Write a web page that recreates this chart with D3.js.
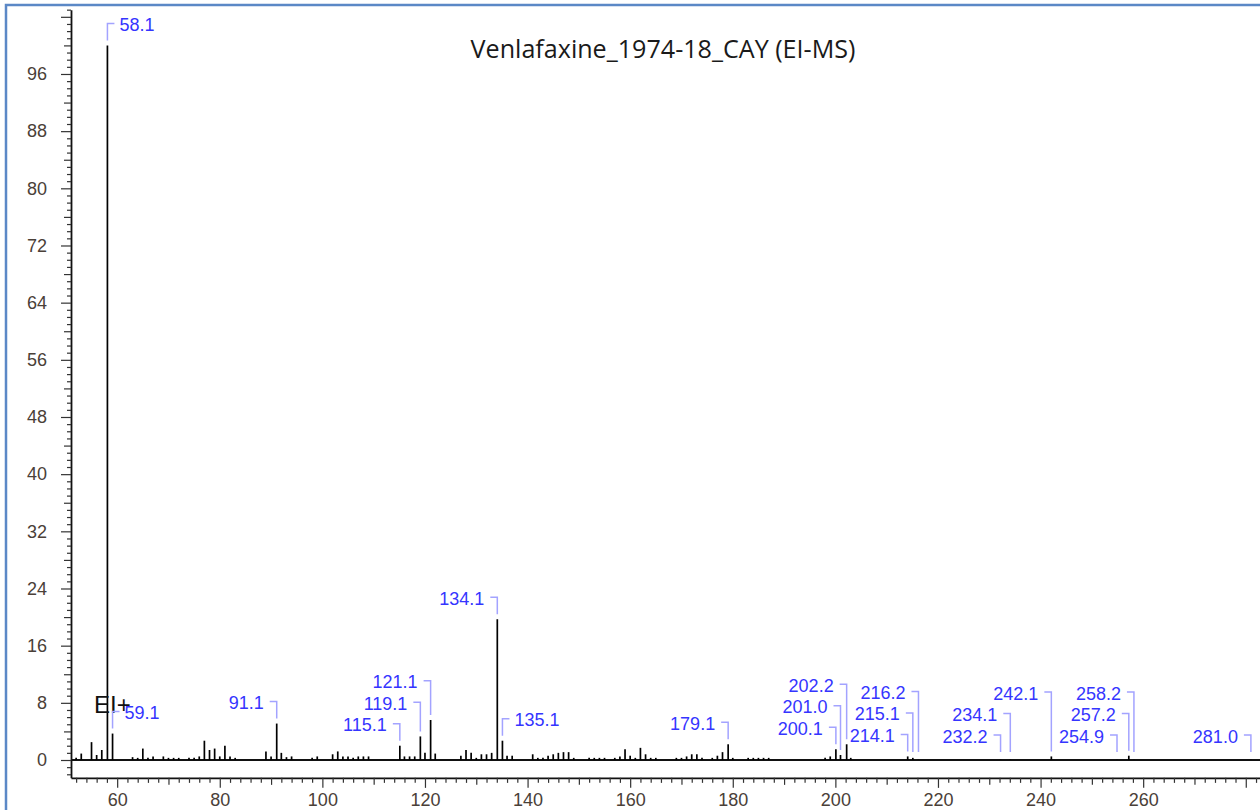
<!DOCTYPE html>
<html><head><meta charset="utf-8">
<script src="https://cdn.jsdelivr.net/npm/d3@7/dist/d3.min.js"></script>
<style>html,body{margin:0;padding:0;background:#fff;overflow:hidden}</style>
</head><body><svg id="c" width="1260" height="810"></svg>
<script>
const title = "Venlafaxine_1974-18_CAY (EI-MS)";
const ionMode = "EI+";
const mzValues = [52,53,55,56,57,58.1,59.1,63,64,65,66,67,69,70,71,72,74,75,76,77,78,79,80,81,82,83,89,90,91.1,92,93,94,98,99,102,103,104,105,106,107,108,109,115.1,116,117,118,119.1,120,121.1,122,127,128,129,130,131,132,133,134.1,135.1,136,137,141,142,143,144,145,146,147,148,149,152,153,154,155,157,158,159,160,161,162,163,164,165,169,170,171,172,173,174,176,177,178,179.1,180,183,184,185,186,187,198,199,200.1,201.0,202.2,203,214.1,215.1,216.2,232.2,234.1,242.1,254.9,257.2,258.2,281.0];
const intensities = [0.3,0.9,2.5,0.7,1.4,100,3.7,0.4,0.3,1.6,0.3,0.5,0.5,0.3,0.3,0.3,0.3,0.3,0.5,2.7,1.4,1.6,0.5,2.0,0.5,0.3,1.2,0.5,5.1,1.0,0.4,0.5,0.3,0.5,0.8,1.2,0.5,0.5,0.3,0.5,0.5,0.5,2.0,0.5,0.5,0.5,3.3,1.0,5.6,0.9,0.6,1.4,1.0,0.3,0.8,0.8,1.0,19.7,2.7,0.6,0.6,0.8,0.3,0.3,0.6,0.8,1.0,1.1,1.1,0.3,0.3,0.3,0.3,0.3,0.3,0.5,1.5,0.6,0.3,1.7,0.8,0.3,0.3,0.3,0.3,0.5,0.8,0.8,0.3,0.3,0.6,1.1,2.2,0.3,0.3,0.3,0.3,0.3,0.3,0.3,0.5,1.5,0.7,2.2,0.3,0.5,0.3,0.05,0.05,0.05,0.5,0.05,0.6,0.05,0.05];
const labeledMz = [58.1,59.1,91.1,115.1,119.1,121.1,134.1,135.1,179.1,200.1,201.0,202.2,214.1,215.1,216.2,232.2,234.1,242.1,254.9,257.2,258.2,281.0];
const yTickLabels = [0,8,16,24,32,40,48,56,64,72,80,88,96];
const xTickLabels = [60,80,100,120,140,160,180,200,220,240,260];

const svg = d3.select("#c");
const W = 1260, H = 810;
const plotLeft = 71;
const pxPerMz = 5.13, pxPerUnit = 7.146;
const xDomain = [51, 285], yDomain = [-2.5, 105];
const x = d3.scaleLinear().domain(xDomain).range([plotLeft, plotLeft + (xDomain[1]-xDomain[0])*pxPerMz]);
const y0 = 760;
const y = d3.scaleLinear().domain(yDomain).range([y0 - yDomain[0]*pxPerUnit, y0 - yDomain[1]*pxPerUnit]);

// frame
svg.append("rect").attr("x",0).attr("y",0).attr("width",W).attr("height",H).attr("fill","#fff");
svg.append("path").attr("d",`M6,${H} V5 H${W}`).attr("fill","none").attr("stroke","#5b88c6").attr("stroke-width",2.5);

const fontAx = "'Liberation Sans', Arial, sans-serif";

// Y axis
const yAxis = d3.axisLeft(y).tickValues(d3.range(-2, 106, 1)).tickSizeOuter(0)
  .tickFormat(d => yTickLabels.includes(d) ? String(d) : "");
const gy = svg.append("g").attr("transform",`translate(${plotLeft},0)`).call(yAxis);
gy.select(".domain").attr("stroke","#111").attr("stroke-width",1.8);
gy.selectAll(".tick line").attr("stroke","#333").attr("stroke-width",1.2)
  .attr("x2", d => d % 8 === 0 ? -10 : (d % 4 === 0 ? -7 : -4));
gy.selectAll(".tick text").attr("x",-24).attr("font-family",fontAx).attr("font-size",18).attr("fill","#4a4038");

// X axis
const xAxisY = y(-2.5);
const xAxis = d3.axisBottom(x).tickValues(d3.range(52, 286, 2)).tickSizeOuter(0)
  .tickFormat(d => xTickLabels.includes(d) ? String(d) : "");
const gx = svg.append("g").attr("transform",`translate(0,${xAxisY})`).call(xAxis);
gx.select(".domain").attr("stroke","#111").attr("stroke-width",1.8);
gx.selectAll(".tick line").attr("stroke","#333").attr("stroke-width",1.2)
  .attr("y2", d => d % 20 === 0 ? 10 : (d % 10 === 0 ? 7 : 5));
gx.selectAll(".tick text").attr("y",15).attr("font-family",fontAx).attr("font-size",18).attr("fill","#4a4038");

// baseline
svg.append("line").attr("x1",x(xDomain[0])).attr("x2",x(xDomain[1])).attr("y1",y(0)).attr("y2",y(0))
  .attr("stroke","#111").attr("stroke-width",2);

// sticks
const peaks = mzValues.map((m,i)=>({mz:m, v:intensities[i]}));
svg.append("g").selectAll("line").data(peaks).join("line")
  .attr("x1",d=>x(d.mz)).attr("x2",d=>x(d.mz)).attr("y1",y(0)).attr("y2",d=>y(d.v))
  .attr("stroke","#000").attr("stroke-width",1.7);

// title
const tt = svg.append("text").attr("x",663).attr("y",58).attr("text-anchor","middle")
  .attr("font-family","'Open Sans', Lato, sans-serif").attr("font-size",22).attr("fill","#1a1a1a").text(title);
const tw = tt.node().getComputedTextLength();
tt.attr("font-size", 22 * 385 / tw);

// EI+
svg.append("text").attr("x",94).attr("y",713).attr("font-family",fontAx).attr("font-size",24).attr("fill","#111").text(ionMode);

// labels
const LH = 21.5, half = 9;
const placed = [];
const gl = svg.append("g");
const labelColor = "#3535ff", bracketColor = "#a3a3ff";
function hitLabel(b){ return placed.filter(p => b.x0 < p.x1 && b.x1 > p.x0 && b.y0 < p.y1 && b.y1 > p.y0); }
function blocked(b, selfMz){
  if (b.x0 < plotLeft + 2) return true;
  return peaks.some(s => s.mz !== selfMz && x(s.mz) > b.x0 && x(s.mz) < b.x1 && y(s.v) < b.y1);
}
labeledMz.forEach(m => {
  const pk = peaks.find(p => p.mz === m);
  const px = x(m), top = y(pk.v);
  const bottom = Math.min(top - 5, y(0) - 8);
  let cy = bottom - 16;
  const t = gl.append("text").attr("font-family",fontAx).attr("font-size",18).attr("fill",labelColor).text(m.toFixed(1));
  const w = t.node().getComputedTextLength();
  const mk = (side, c) => side === "L" ? {x0:px-13-w, x1:px, y0:c-half, y1:c+half} : {x0:px, x1:px+12+w, y0:c-half, y1:c+half};
  let side = blocked(mk("L",cy), m) ? "R" : "L";
  let guard = 0;
  while (guard++ < 30) {
    const hits = hitLabel(mk(side,cy));
    if (!hits.length) break;
    cy = d3.min(hits, h => h.cy) - LH;
  }
  const b = mk(side, cy); b.cy = cy; placed.push(b);
  if (side === "L") {
    t.attr("text-anchor","end").attr("x",px-13).attr("y",cy+6.5);
    gl.append("path").attr("d",`M${px-7},${cy-1}H${px}V${bottom}`).attr("fill","none").attr("stroke",bracketColor).attr("stroke-width",1.5);
  } else {
    t.attr("text-anchor","start").attr("x",px+12).attr("y",cy+6.5);
    gl.append("path").attr("d",`M${px+7},${cy-1}H${px}V${bottom}`).attr("fill","none").attr("stroke",bracketColor).attr("stroke-width",1.5);
  }
});
</script></body></html>
